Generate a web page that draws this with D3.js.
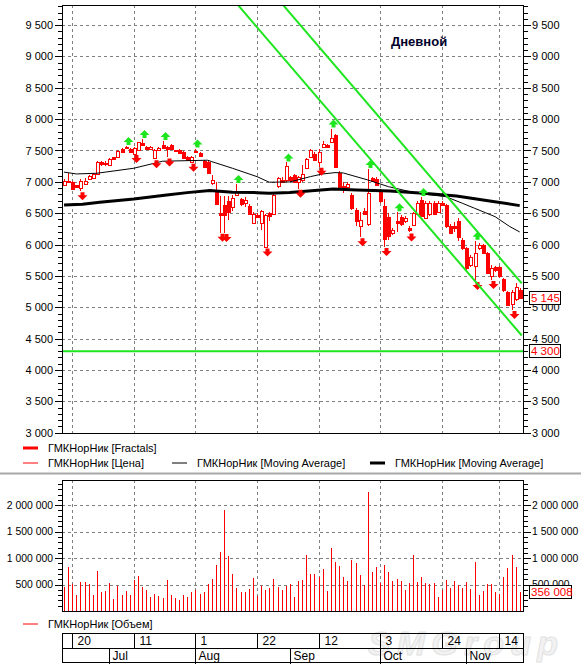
<!DOCTYPE html>
<html lang="ru">
<head>
<meta charset="UTF-8">
<title>ГМКНорНик</title>
<script src="https://cdn.jsdelivr.net/npm/d3@7"></script>
<style>
  body { margin: 0; background: #fff; }
  text { font-family: "Liberation Sans", Arial, sans-serif; font-size: 11px; }
  .grid line { stroke: #808080; stroke-dasharray: 3,3; shape-rendering: crispEdges; }
  .axis path { display: none; }
  .axis line { stroke: #000; shape-rendering: crispEdges; }
  .axis text { fill: #000; font-size: 11px; }
  .vaxis text { font-size: 10.4px; }
</style>
</head>
<body>
<svg id="chart" width="581" height="665"></svg>
<script>
// trading days: Jun 16 2011 .. Nov 21 2011, Nov 4 was a holiday
var firstDay = "2011-06-16", lastDay = "2011-11-21";
var holidays = ["2011-11-04"];

var open  = [6950,7015,7000,6945,6900,6980,7045,7070,7125,7310, 7285,7270,7390,7390,7530,7545,7530,7455,7510,7615,
             7560,7530,7365,7510,7590,7555,7590,7500,7500,7470, 7400,7315,7490,7460,7340,7320,6980,6845,6510,6630,
             6690,6600,6795,6720,6660,6620,6350,6470,6350,5960, 6500,6490,6925,7030,7030,7070,7110,7000,7030,7220,
             7390,7450,7325,7560,7590,7635,7750,7140,6930,6910, 6790,6550,6290,6540,6315,7055,7045,6855,6610,6440,
             6190,6370,6445,6380,6260,6315,6500,6710,6420,6480, 6670,6525,6670,6630,6300,6290,6370,6075,5940,5680,
             5660,5950,5990,5870,5490,5640,5640,5450,5250,5065, 5145,5280];
var high  = [7045,7140,7010,6950,7045,7060,7110,7140,7330,7330, 7330,7380,7400,7500,7545,7570,7545,7555,7640,7685,
             7575,7570,7520,7560,7650,7570,7600,7510,7520,7490, 7420,7410,7530,7480,7350,7330,7110,7000,6775,6780,
             6770,6790,6965,6750,6760,6640,6520,6500,6550,6480, 6520,6800,7070,7080,7310,7100,7130,7100,7270,7380,
             7530,7480,7520,7650,7610,7850,7770,7170,6990,6990, 6820,6580,6525,6580,7205,7080,7080,6890,6720,6500,
             6260,6515,6470,6460,6290,6520,6690,6760,6700,6700, 6690,6690,6690,6650,6320,6360,6420,6100,5960,5830,
             6060,6030,6010,5880,5680,5660,5660,5460,5260,5270, 5380,5300];
var low   = [6935,6985,6880,6905,6850,6960,7040,7060,7120,7260, 7255,7260,7350,7380,7470,7530,7470,7445,7500,7570,
             7525,7520,7360,7500,7525,7390,7520,7470,7440,7370, 7340,7305,7455,7400,7215,7130,6950,6650,6190,6185,
             6390,6530,6780,6610,6600,6480,6330,6420,6230,5955, 6380,6480,6900,6980,7000,7000,6990,6890,7000,7200,
             7380,7340,7240,7540,7550,7620,7230,6880,6830,6880, 6550,6290,6115,6480,6300,6990,6930,6660,5960,6080,
             6160,6200,6300,6340,6193,6300,6480,6440,6400,6460, 6480,6510,6620,6270,6170,6200,6060,5920,5580,5650,
             5420,5920,5850,5540,5435,5570,5470,5250,5030,4957, 5100,5130];
var close = [7015,6995,6885,6910,7015,7020,7100,7130,7310,7280, 7305,7365,7360,7490,7490,7560,7480,7545,7630,7580,
             7535,7560,7500,7545,7535,7530,7530,7480,7450,7380, 7360,7400,7470,7420,7245,7140,7030,6660,6475,6470,
             6510,6740,6845,6635,6710,6490,6495,6440,6540,6470, 6460,6790,7055,6995,7250,7020,7000,7080,7130,7360,
             7500,7355,7480,7600,7565,7700,7245,6900,6900,6960, 6580,6370,6390,6500,6815,7015,6950,6690,6080,6130,
             6240,6345,6340,6430,6235,6505,6670,6460,6660,6660, 6500,6670,6640,6290,6190,6260,6120,5945,5625,5800,
             5870,6000,5865,5555,5620,5585,5490,5270,5040,5250, 5330,5145];
// volume, thousands of shares
var volumeK = [454,832,505,297,543,543,505,297,756,354, 372,524,227,473,297,372,297,580,656,454,
               391,259,316,278,240,580,297,240,202,297, 259,354,391,316,354,518,605,864,1116,1904,
               1034,707,429,354,354,410,624,278,473,391, 429,605,454,391,473,505,265,561,580,1053,
               707,707,637,788,372,1185,921,845,637,561, 958,902,675,486,2244,732,826,524,864,732,
               561,599,561,391,524,1053,543,637,524,505, 524,265,391,580,429,561,486,429,543,410,
               921,297,372,505,505,354,316,637,807,1053, 826,356.008];

var fractalUp   = [15,19,24,32,42,54,65,74,81,87,100];
var fractalDown = [4,17,22,25,31,38,39,49,57,62,72,78,84,100,104,109];

// moving averages: [day index, value]
var maShort = [[0,7155],[3,7126],[8,7137],[17,7217],[24,7329],[35,7345],[36,7322],[41,7217],[47,7083],[50,6994],
               [55,6999],[60,7083],[63,7126],[66,7147],[68,7142],[74,7030],[79,6924],[86,6818],[93,6764],[97,6659],
               [100,6579],[105,6445],[108.6,6286],[111,6201]];
var maLong  = [[0,6632],[4.5,6643],[8.7,6675],[17,6728],[25,6791],[30,6828],[35.5,6860],[41,6834],[47,6828],[50,6818],
               [55,6831],[65.6,6887],[71.3,6871],[79.4,6855],[87.5,6818],[95.6,6775],[103.7,6696],[111,6621]];

// channel lines and support level
var channelLow  = [[40,10000],[111.5,4550]];
var channelHigh = [[51,10000],[111.5,5380]];
var supportLevel = 4300;

var priceTicks  = [3000,3500,4000,4500,5000,5500,6000,6500,7000,7500,8000,8500,9000,9500];
var volumeTicks = [500,1000,1500,2000];
var dayTicks    = ["2011-06-20","2011-07-11","2011-08-01","2011-08-22","2011-09-12","2011-10-03","2011-10-24","2011-11-14"];

var parseDay = d3.timeParse("%Y-%m-%d"), fmtDay = d3.timeFormat("%Y-%m-%d");
var dates = d3.timeDay.range(parseDay(firstDay), d3.timeDay.offset(parseDay(lastDay), 1))
  .filter(function(d) { return d.getDay() % 6 !== 0 && holidays.indexOf(fmtDay(d)) < 0; });
var idx = d3.range(dates.length);
var dayIndex = function(s) { return dates.findIndex(function(d) { return fmtDay(d) === s; }); };

var ru = d3.formatLocale({decimal: ",", thousands: " ", grouping: [3], currency: ["", ""]});
var fmtNum = ru.format(",d");

var red = "#ff0000", green = "#1ee61e";
var pane = {left: 62, right: 523, top: 5, bottom: 433};
var vpane = {top: 480, bottom: 611};

var svg = d3.select("#chart");

var x = d3.scaleLinear().domain([-0.5, 111.8]).range([pane.left, pane.right]);
var y = d3.scaleLinear().domain([2995, 9820]).range([pane.bottom, pane.top]);
var yv = d3.scaleLinear().domain([0, 2476]).range([vpane.bottom, vpane.top]);
var px = function(i) { return Math.round(x(i)) + 0.5; };

svg.append("clipPath").attr("id", "clipMain").append("rect")
  .attr("x", pane.left).attr("y", pane.top)
  .attr("width", pane.right - pane.left).attr("height", pane.bottom - pane.top);

// faint watermark behind the date axis
svg.append("text").attr("x", 368).attr("y", 655)
  .attr("textLength", 190).style("font-size", "34px").style("font-weight", "bold").style("font-style", "italic")
  .style("fill", "#f2f2f2").style("stroke", "#e2e2e2").text("SMGroup");

// grids
var tickIdx = dayTicks.map(dayIndex);
function grid(top, bottom, yTicks, ys) {
  var g = svg.append("g").attr("class", "grid");
  g.selectAll(".v").data(tickIdx).enter().append("line")
    .attr("x1", px).attr("x2", px).attr("y1", top).attr("y2", bottom);
  g.selectAll(".h").data(yTicks).enter().append("line")
    .attr("x1", pane.left).attr("x2", pane.right)
    .attr("y1", function(d) { return Math.round(ys(d)) + 0.5; })
    .attr("y2", function(d) { return Math.round(ys(d)) + 0.5; });
}
grid(pane.top, pane.bottom, priceTicks.slice(1), y);
grid(vpane.top, vpane.bottom, volumeTicks, yv);

// candles
var cg = svg.append("g").attr("shape-rendering", "crispEdges");
cg.selectAll(".wick").data(idx).enter().append("line")
  .attr("x1", px).attr("x2", px)
  .attr("y1", function(i) { return y(high[i]); })
  .attr("y2", function(i) { return y(low[i]); })
  .attr("stroke", red);
cg.selectAll(".body").data(idx).enter().append("rect")
  .attr("x", function(i) { return px(i) - 1.5; })
  .attr("width", 3)
  .attr("y", function(i) { return Math.round(y(Math.max(open[i], close[i]))) + 0.5; })
  .attr("height", function(i) { return Math.max(1, Math.round(Math.abs(y(open[i]) - y(close[i])))); })
  .attr("fill", function(i) { return close[i] > open[i] ? "#fff" : red; })
  .attr("stroke", red);

// moving averages
var maLine = d3.line().x(function(d) { return x(d[0]); }).y(function(d) { return y(d[1]); });
svg.append("path").attr("d", maLine(maShort)).attr("fill", "none").attr("stroke", "#000").attr("stroke-width", 1);
svg.append("path").attr("d", maLine(maLong)).attr("fill", "none").attr("stroke", "#000").attr("stroke-width", 3);

// fractals
function arrow(cx, y0, s) {
  return "M" + (cx - 2) + "," + y0 + "L" + (cx - 2) + "," + (y0 + s * 3) + "L" + (cx - 5) + "," + (y0 + s * 3) +
    "L" + cx + "," + (y0 + s * 8) + "L" + (cx + 5) + "," + (y0 + s * 3) + "L" + (cx + 2) + "," + (y0 + s * 3) +
    "L" + (cx + 2) + "," + y0 + "Z";
}
svg.selectAll(".fup").data(fractalUp).enter().append("path")
  .attr("d", function(i) { return arrow(Math.round(x(i)) + 2.5, y(high[i]) - 1, -1); })
  .attr("fill", green);
svg.selectAll(".fdn").data(fractalDown).enter().append("path")
  .attr("d", function(i) { return arrow(Math.round(x(i)) + 2.5, y(low[i]) + 1, 1); })
  .attr("fill", red);

// channel and level
var lg = svg.append("g").attr("clip-path", "url(#clipMain)");
[channelLow, channelHigh].forEach(function(c) {
  lg.append("path").attr("d", maLine(c)).attr("fill", "none").attr("stroke", green).attr("stroke-width", 2);
});
lg.append("line").attr("x1", pane.left).attr("x2", pane.right)
  .attr("y1", y(supportLevel)).attr("y2", y(supportLevel))
  .attr("stroke", green).attr("stroke-width", 2);

// volume bars
svg.append("g").attr("shape-rendering", "crispEdges")
  .selectAll("line").data(idx).enter().append("line")
  .attr("x1", px).attr("x2", px)
  .attr("y1", yv(0)).attr("y2", function(i) { return yv(volumeK[i]); })
  .attr("stroke", red);

// frames
[[pane.top, pane.bottom], [vpane.top, vpane.bottom]].forEach(function(p) {
  svg.append("rect").attr("x", pane.left + 0.5).attr("y", p[0] + 0.5)
    .attr("width", pane.right - pane.left).attr("height", p[1] - p[0])
    .attr("fill", "none").attr("stroke", "#000").attr("shape-rendering", "crispEdges");
});

// axes
var minorPrice = d3.range(3000, 9801, 100), minorVol = d3.range(100, 2401, 100);
function axes(ys, major, minor, fmt, cls) {
  svg.append("g").attr("class", "axis").attr("transform", "translate(" + pane.left + ",0)")
    .call(d3.axisLeft(ys).tickValues(minor).tickSize(4).tickFormat(""));
  svg.append("g").attr("class", "axis " + cls).attr("transform", "translate(" + pane.left + ",0)")
    .call(d3.axisLeft(ys).tickValues(major).tickSize(7).tickPadding(2).tickFormat(fmt));
  svg.append("g").attr("class", "axis").attr("transform", "translate(" + (pane.right + 1) + ",0)")
    .call(d3.axisRight(ys).tickValues(minor).tickSize(4).tickFormat(""));
  svg.append("g").attr("class", "axis " + cls).attr("transform", "translate(" + (pane.right + 1) + ",0)")
    .call(d3.axisRight(ys).tickValues(major).tickSize(7).tickPadding(1).tickFormat(fmt));
}
axes(y, priceTicks, minorPrice, fmtNum, "paxis");
axes(yv, volumeTicks, minorVol, function(d) { return fmtNum(d * 1000); }, "vaxis");

// value tags on the right axis
function tag(yPos, label, w) {
  var g = svg.append("g").attr("transform", "translate(529," + Math.round(yPos) + ")");
  g.append("rect").attr("x", 0.5).attr("y", -6.5).attr("width", w).attr("height", 13)
    .attr("fill", "#fff").attr("stroke", "#000").attr("shape-rendering", "crispEdges");
  g.append("text").attr("x", 2).attr("y", 0).attr("dy", "0.36em")
    .style("font-size", "11.5px").style("fill", red).text(label);
}
tag(y(close[close.length - 1]), fmtNum(close[close.length - 1]), 31);
tag(y(supportLevel), fmtNum(supportLevel), 31);
tag(yv(volumeK[volumeK.length - 1]), fmtNum(Math.round(volumeK[volumeK.length - 1] * 1000)), 42);

// title
svg.append("text").attr("x", 391).attr("y", 46)
  .style("font-size", "13px").style("font-weight", "bold").style("fill", "#00002a").text("Дневной");

// legends
function legend(lx, ly, w, color, label) {
  svg.append("line").attr("x1", lx).attr("x2", lx + 15).attr("y1", ly).attr("y2", ly)
    .attr("stroke", color).attr("stroke-width", w);
  svg.append("text").attr("x", lx + 25).attr("y", ly).attr("dy", "0.36em").text(label);
}
legend(23, 448, 3, red, "ГМКНорНик [Fractals]");
legend(23, 463, 1, red, "ГМКНорНик [Цена]");
legend(172, 463, 1, "#000", "ГМКНорНик [Moving Average]");
legend(370, 463, 3, "#000", "ГМКНорНик [Moving Average]");
legend(23, 624, 1, red, "ГМКНорНик [Объем]");

// panel separator
svg.append("line").attr("x1", 0).attr("x2", 581).attr("y1", 473.5).attr("y2", 473.5)
  .attr("stroke", "#a8a8a8").attr("stroke-width", 2);

// date axis
var dax = svg.append("g").attr("shape-rendering", "crispEdges");
var row1 = 633.5, row2 = 648.5, row3 = 663.5;
dax.append("rect").attr("x", pane.left + 0.5).attr("y", row1).attr("width", pane.right - pane.left)
  .attr("height", row3 - row1 - 1).attr("fill", "none").attr("stroke", "#000");
dax.append("line").attr("x1", pane.left).attr("x2", pane.right + 1).attr("y1", row2).attr("y2", row2).attr("stroke", "#000");
tickIdx.forEach(function(i) {
  dax.append("line").attr("x1", px(i)).attr("x2", px(i)).attr("y1", row1).attr("y2", row2).attr("stroke", "#000");
  svg.append("text").attr("x", px(i) + 5).attr("y", 645).style("font-size", "12px").text(dates[i].getDate());
});
idx.filter(function(i) { return i > 0 && dates[i].getMonth() !== dates[i - 1].getMonth(); }).forEach(function(i) {
  dax.append("line").attr("x1", px(i)).attr("x2", px(i)).attr("y1", row2).attr("y2", row3).attr("stroke", "#000");
  svg.append("text").attr("x", px(i) + 3).attr("y", 660).style("font-size", "12px").text(d3.timeFormat("%b")(dates[i]));
});
</script>
</body>
</html>
